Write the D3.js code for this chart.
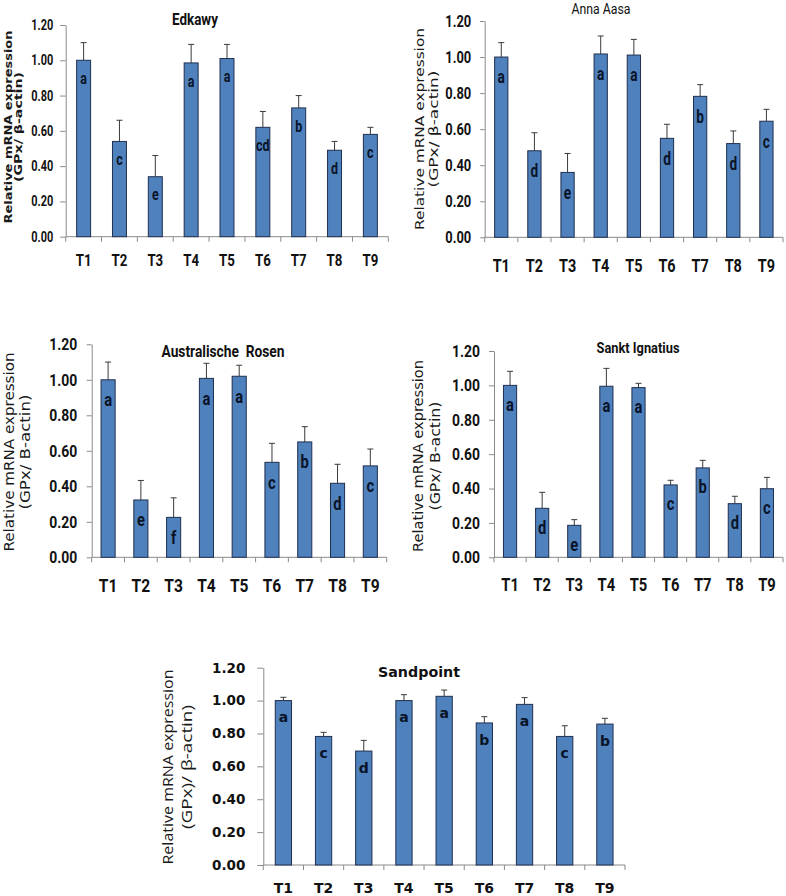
<!DOCTYPE html>
<html>
<head>
<meta charset="utf-8">
<script src="https://cdn.jsdelivr.net/npm/d3@7"></script>
<style>
  html, body { margin: 0; padding: 0; background: #fff; }
  svg { display: block; }
</style>
</head>
<body>
<svg id="chart" width="786" height="896"></svg>
<script>
// ---------- data ----------
const categories = ["T1", "T2", "T3", "T4", "T5", "T6", "T7", "T8", "T9"];
const yTickValues = [0, 0.2, 0.4, 0.6, 0.8, 1.0, 1.2];

const edkawyMeans   = [1.00, 0.54, 0.34, 0.985, 1.01, 0.62, 0.73, 0.49, 0.58];
const edkawyErrors  = [0.10, 0.12, 0.12, 0.105, 0.08, 0.09, 0.07, 0.05, 0.04];
const edkawyLetters = ["a", "c", "e", "a", "a", "cd", "b", "d", "c"];

const annaMeans   = [1.00, 0.48, 0.36, 1.017, 1.011, 0.549, 0.782, 0.52, 0.644];
const annaErrors  = [0.08, 0.10, 0.105, 0.10, 0.087, 0.078, 0.065, 0.07, 0.066];
const annaLetters = ["a", "d", "e", "a", "a", "d", "b", "d", "c"];

const rosenMeans   = [1.00, 0.323, 0.225, 1.008, 1.02, 0.535, 0.65, 0.417, 0.515];
const rosenErrors  = [0.10, 0.11, 0.11, 0.085, 0.062, 0.107, 0.086, 0.107, 0.095];
const rosenLetters = ["a", "e", "f", "a", "a", "c", "b", "d", "c"];

const ignatiusMeans   = [1.00, 0.285, 0.186, 0.995, 0.987, 0.421, 0.52, 0.312, 0.399];
const ignatiusErrors  = [0.082, 0.093, 0.033, 0.104, 0.025, 0.027, 0.044, 0.043, 0.066];
const ignatiusLetters = ["a", "d", "e", "a", "a", "c", "b", "d", "c"];

const sandMeans   = [1.00, 0.782, 0.693, 1.00, 1.026, 0.864, 0.977, 0.782, 0.857];
const sandErrors  = [0.02, 0.025, 0.065, 0.036, 0.038, 0.038, 0.041, 0.065, 0.035];
const sandLetters = ["a", "c", "d", "a", "a", "b", "a", "c", "b"];

const titles = ["Edkawy", "Anna Aasa", "Australische  Rosen", "Sankt Ignatius", "Sandpoint"];
const yLabelLine1 = "Relative mRNA expression";
const yLabelLine2 = ["(GPx/ \u03B2-actin)", "(GPx/ \u03B2-actin)", "(GPx/ B-actin)", "(GPx/ B-actin)", "(GPx)/ \u03B2-actin)"];

// ---------- styles / layout ----------
const CAL = 'Roboto, "Open Sans", sans-serif';
const WIDE = '"DejaVu Sans", Verdana, sans-serif';
const BAR_FILL = "#4f81bd";
const BAR_STROKE = "#1f2f4f";
const AXIS_COLOR = "#8a8a8a";

const panels = [
  { means: edkawyMeans, errs: edkawyErrors, letters: edkawyLetters, title: titles[0], yl2: yLabelLine2[0],
    x0: 65.7, x1: 388.3, yBot: 236.7, yTop: 25, barFrac: 0.39, tickLen: 5.5, tickPad: 7,
    font: CAL, sx: 0.78, tickFs: 14, catFs: 17, catY: 266, letFs: 16, letOff: 18,
    titleX: 195, titleY: 25, titleFs: 16, titleW: "bold", titleLen: 46,
    ylFont: WIDE, ylFs: 10.5, ylW: "bold", yl1X: 8, yl2X: 18, ylY: 127, yl1Len: 193, yl2Len: 110 },
  { means: annaMeans, errs: annaErrors, letters: annaLetters, title: titles[1], yl2: yLabelLine2[1],
    x0: 484.7, x1: 783, yBot: 237.3, yTop: 21, barFrac: 0.40, tickLen: 4.5, tickPad: 9,
    font: CAL, sx: 0.76, tickFs: 17, catFs: 19, catY: 272, letFs: 18, letOff: 20,
    titleX: 601, titleY: 14, titleFs: 15.5, titleW: "normal", titleLen: 59,
    ylFont: WIDE, ylFs: 12.5, ylW: "normal", yl1X: 420, yl2X: 434, ylY: 129, yl1Len: 202, yl2Len: 117 },
  { means: rosenMeans, errs: rosenErrors, letters: rosenLetters, title: titles[2], yl2: yLabelLine2[2],
    x0: 91.7, x1: 386.7, yBot: 557.3, yTop: 344.3, barFrac: 0.43, tickLen: 5, tickPad: 9.5,
    font: CAL, sx: 0.82, tickFs: 17, catFs: 19, catY: 592, letFs: 18, letOff: 20,
    titleX: 223, titleY: 357, titleFs: 16, titleW: "bold", titleLen: 123,
    ylFont: WIDE, ylFs: 13.5, ylW: "normal", yl1X: 9, yl2X: 25, ylY: 452, yl1Len: 199, yl2Len: 115 },
  { means: ignatiusMeans, errs: ignatiusErrors, letters: ignatiusLetters, title: titles[3], yl2: yLabelLine2[3],
    x0: 494, x1: 783, yBot: 557.3, yTop: 351, barFrac: 0.41, tickLen: 5, tickPad: 9,
    font: CAL, sx: 0.82, tickFs: 17, catFs: 18, catY: 591, letFs: 18, letOff: 19,
    titleX: 638, titleY: 353, titleFs: 14, titleW: "bold", titleLen: 83,
    ylFont: WIDE, ylFs: 13.5, ylW: "normal", yl1X: 418, yl2X: 435, ylY: 456, yl1Len: 192, yl2Len: 109 },
  { means: sandMeans, errs: sandErrors, letters: sandLetters, title: titles[4], yl2: yLabelLine2[4],
    x0: 263.3, x1: 625, yBot: 865, yTop: 667.7, barFrac: 0.405, tickLen: 6, tickPad: 12,
    font: WIDE, sx: 1, tickFs: 13.5, catFs: 14, catY: 893, letFs: 14, letOff: 17,
    titleX: 419, titleY: 677, titleFs: 14, titleW: "bold", titleLen: 82,
    ylFont: '"Open Sans", "Noto Sans", sans-serif', ylFs: 14, ylW: "normal", yl1X: 168, yl2X: 187, ylY: 767, yl1Len: 195, yl2Len: 124 }
];

// horizontally condense text (emulates a narrow face) while keeping its anchor point
function squeeze(sel, sx) {
  if (sx === 1) return;
  sel.each(function () {
    const t = d3.select(this);
    const x = +(t.attr("x") || 0);
    t.attr("x", x / sx).attr("transform", `scale(${sx},1)`);
  });
}

const svg = d3.select("#chart");

panels.forEach(p => {
  const g = svg.append("g");
  const x = d3.scaleBand().domain(categories).range([p.x0, p.x1]).paddingInner(0).paddingOuter(0);
  const y = d3.scaleLinear().domain([0, 1.2]).range([p.yBot, p.yTop]);
  const bw = x.bandwidth() * p.barFrac;

  // y axis
  const yAxis = d3.axisLeft(y).tickValues(yTickValues).tickFormat(d3.format(".2f"))
    .tickSize(p.tickLen).tickSizeOuter(0).tickPadding(p.tickPad);
  const ya = g.append("g").attr("transform", `translate(${p.x0},0)`).call(yAxis);
  ya.select(".domain").attr("stroke", AXIS_COLOR);
  ya.selectAll(".tick line").attr("stroke", AXIS_COLOR);
  const tt = ya.selectAll(".tick text").attr("fill", "#111")
    .style("font-family", p.font).style("font-size", p.tickFs + "px").style("font-weight", "bold");
  squeeze(tt, p.sx);

  // x axis: baseline plus boundary ticks
  g.append("line").attr("x1", p.x0).attr("x2", p.x1).attr("y1", y(0)).attr("y2", y(0)).attr("stroke", AXIS_COLOR);
  const bounds = categories.map(c => x(c)).concat([x(categories[categories.length - 1]) + x.bandwidth()]);
  g.selectAll(".xt").data(bounds).join("line").attr("class", "xt")
    .attr("x1", d => d).attr("x2", d => d).attr("y1", y(0)).attr("y2", y(0) + 5).attr("stroke", AXIS_COLOR);
  const ct = g.selectAll(".cat").data(categories).join("text").attr("class", "cat")
    .attr("x", d => x(d) + x.bandwidth() / 2).attr("y", p.catY)
    .attr("text-anchor", "middle").attr("fill", "#111")
    .style("font-family", p.font).style("font-size", p.catFs + "px").style("font-weight", "bold")
    .text(d => d);
  squeeze(ct, p.sx);

  const rows = categories.map((c, i) => ({ c, m: p.means[i], e: p.errs[i], l: p.letters[i] }));

  // error bars (upper half only)
  g.selectAll(".eb").data(rows).join("line").attr("class", "eb")
    .attr("x1", d => x(d.c) + x.bandwidth() / 2).attr("x2", d => x(d.c) + x.bandwidth() / 2)
    .attr("y1", d => y(d.m)).attr("y2", d => y(d.m + d.e))
    .attr("stroke", "#3a3a3a").attr("stroke-width", 1);
  g.selectAll(".ec").data(rows).join("line").attr("class", "ec")
    .attr("x1", d => x(d.c) + x.bandwidth() / 2 - 3).attr("x2", d => x(d.c) + x.bandwidth() / 2 + 3)
    .attr("y1", d => y(d.m + d.e)).attr("y2", d => y(d.m + d.e))
    .attr("stroke", "#3a3a3a").attr("stroke-width", 1);

  // bars
  g.selectAll(".bar").data(rows).join("rect").attr("class", "bar")
    .attr("x", d => x(d.c) + (x.bandwidth() - bw) / 2).attr("width", bw)
    .attr("y", d => y(d.m)).attr("height", d => y(0) - y(d.m))
    .attr("fill", BAR_FILL).attr("stroke", BAR_STROKE).attr("stroke-width", 1);

  // significance letters
  const lt = g.selectAll(".let").data(rows).join("text").attr("class", "let")
    .attr("x", d => x(d.c) + x.bandwidth() / 2).attr("y", d => y(d.m) + p.letOff)
    .attr("dy", "0.35em").attr("text-anchor", "middle").attr("fill", "#0a1428")
    .style("font-family", p.font).style("font-size", p.letFs + "px").style("font-weight", "bold")
    .text(d => d.l);
  squeeze(lt, p.sx);

  // title
  g.append("text").attr("x", p.titleX).attr("y", p.titleY).attr("text-anchor", "middle")
    .attr("fill", "#111").style("font-family", p.font).style("font-size", p.titleFs + "px")
    .style("font-weight", p.titleW).style("white-space", "pre")
    .attr("textLength", p.titleLen).attr("lengthAdjust", "spacingAndGlyphs")
    .text(p.title);

  // y label (two lines)
  [[p.yl1X, yLabelLine1, p.yl1Len], [p.yl2X, p.yl2, p.yl2Len]].forEach(([lx, txt, len]) => {
    g.append("text").attr("transform", `translate(${lx},${p.ylY}) rotate(-90)`)
      .attr("dy", "0.35em").attr("text-anchor", "middle").attr("fill", "#1a1a1a")
      .attr("textLength", len).attr("lengthAdjust", "spacingAndGlyphs")
      .style("font-family", p.ylFont).style("font-size", p.ylFs + "px").style("font-weight", p.ylW)
      .text(txt);
  });
});
</script>
</body>
</html>
